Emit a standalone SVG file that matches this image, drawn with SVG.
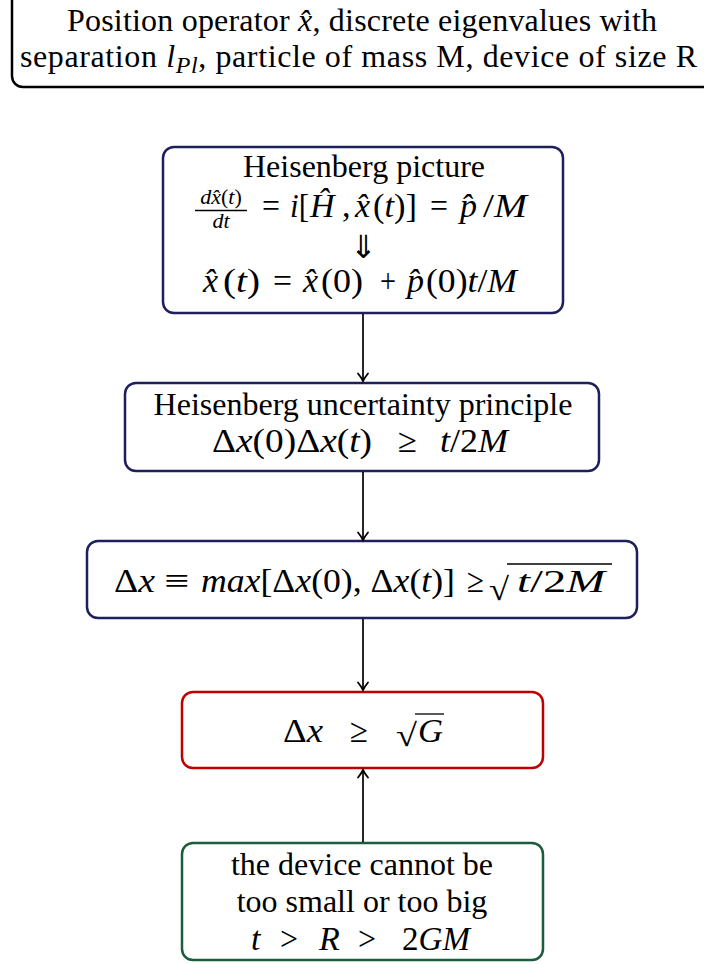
<svg xmlns="http://www.w3.org/2000/svg" width="704" height="964" viewBox="0 0 704 964" font-family="'Liberation Serif', Tinos, 'Times New Roman', serif">
<style>
text{font-family:'Liberation Serif', Tinos, 'Times New Roman', serif;font-size:32px;fill:#000}
.m{font-size:34px}
.it{font-style:italic}
.sm{font-size:22px}
.box{fill:#fff;stroke-width:2.5}
.navy{stroke:#1f1f5c}
.red{stroke:#c00000}
.green{stroke:#1b5c3e}
.blk{stroke:#000}
.conn line{stroke:#000;stroke-width:1.7}
.rule{stroke:#000;stroke-width:1.3}
</style>
<defs>
<marker id="arr" markerUnits="userSpaceOnUse" markerWidth="16" markerHeight="16" refX="0" refY="0" viewBox="-9 -8 11 16" orient="auto">
<path d="M-7.5,-5 Q-3,-1.4 0,0 Q-3,1.4 -7.5,5" fill="none" stroke="#000" stroke-width="1.8" stroke-linecap="round"/>
</marker>
</defs>

<g id="premise">
<rect class="box blk" x="12" y="-20" width="702" height="107" rx="11"/>
<text x="67" y="31" font-size="34.5" textLength="590" lengthAdjust="spacing">Position operator <tspan class="it">x̂</tspan>, discrete eigenvalues with</text>
<text x="20" y="67" font-size="35" textLength="677" lengthAdjust="spacing">separation <tspan class="it">l</tspan><tspan class="it" font-size="24" dy="6">Pl</tspan><tspan dy="-6">, particle of mass M, device of size R</tspan></text>
</g>

<g id="heisenberg-picture">
<rect class="box navy" x="163" y="147" width="400" height="166" rx="11"/>
<text x="364" y="177" text-anchor="middle">Heisenberg picture</text>
<text class="sm it" x="221" y="204" text-anchor="middle">dx̂<tspan font-style="normal">(</tspan>t<tspan font-style="normal">)</tspan></text>
<line class="rule" x1="195" y1="210.5" x2="247" y2="210.5"/>
<text class="sm it" x="221" y="228" text-anchor="middle">dt</text>
<text class="m" x="262" y="217" textLength="18" lengthAdjust="spacingAndGlyphs">=</text>
<text class="m" x="290" y="217" textLength="19" lengthAdjust="spacingAndGlyphs"><tspan class="it">i</tspan>[</text>
<text class="m it" x="310" y="217">Ĥ</text>
<text class="m" x="342" y="217">,</text>
<text class="m it" x="355" y="217">x̂</text>
<text class="m" x="373" y="217" textLength="44" lengthAdjust="spacingAndGlyphs">(<tspan class="it">t</tspan>)]</text>
<text class="m" x="430" y="217" textLength="18" lengthAdjust="spacingAndGlyphs">=</text>
<text class="m it" x="460" y="217">p̂</text>
<text class="m" x="483" y="217" textLength="44" lengthAdjust="spacingAndGlyphs">/<tspan class="it">M</tspan></text>
<text x="363" y="258" text-anchor="middle" font-size="28" font-family="DejaVu Serif, serif">⇓</text>
<text class="m it" x="203" y="292">x̂</text>
<text class="m" x="223" y="292" textLength="37" lengthAdjust="spacingAndGlyphs">(<tspan class="it">t</tspan>)</text>
<text class="m" x="273" y="292" textLength="19" lengthAdjust="spacingAndGlyphs">=</text>
<text class="m it" x="303" y="292">x̂</text>
<text class="m" x="321" y="292" textLength="42" lengthAdjust="spacingAndGlyphs">(0)</text>
<text class="m" x="380" y="292" textLength="16" lengthAdjust="spacingAndGlyphs">+</text>
<text class="m it" x="407" y="292">p̂</text>
<text class="m" x="426" y="292" textLength="91" lengthAdjust="spacingAndGlyphs">(0)<tspan class="it">t</tspan>/<tspan class="it">M</tspan></text>
</g>

<g id="uncertainty">
<rect class="box navy" x="125" y="383" width="474" height="88" rx="11"/>
<text x="363" y="415" text-anchor="middle">Heisenberg uncertainty principle</text>
<text class="m" x="212" y="452" textLength="160" lengthAdjust="spacingAndGlyphs">Δ<tspan class="it">x</tspan>(0)Δ<tspan class="it">x</tspan>(<tspan class="it">t</tspan>)</text>
<text class="m" x="398" y="452" textLength="19" lengthAdjust="spacingAndGlyphs">≥</text>
<text class="m" x="440" y="452" textLength="68" lengthAdjust="spacingAndGlyphs"><tspan class="it">t</tspan>/2<tspan class="it">M</tspan></text>
</g>

<g id="max-bound">
<rect class="box navy" x="87" y="541" width="550" height="77" rx="11"/>
<text class="m" x="114" y="592" textLength="41" lengthAdjust="spacingAndGlyphs">Δ<tspan class="it">x</tspan></text>
<text class="m" x="164" y="592" textLength="25" lengthAdjust="spacingAndGlyphs">≡</text>
<text class="m" x="201" y="592" textLength="254" lengthAdjust="spacingAndGlyphs"><tspan class="it">max</tspan>[Δ<tspan class="it">x</tspan>(0), Δ<tspan class="it">x</tspan>(<tspan class="it">t</tspan>)]</text>
<text class="m" x="467" y="592" textLength="17" lengthAdjust="spacingAndGlyphs">≥</text>
<text x="489" y="600" font-size="38" textLength="20" lengthAdjust="spacingAndGlyphs">√</text>
<line class="rule" x1="507" y1="564" x2="612" y2="564"/>
<text x="517" y="592" font-size="38" textLength="88" lengthAdjust="spacingAndGlyphs"><tspan class="it">t</tspan>/2<tspan class="it">M</tspan></text>
</g>

<g id="result">
<rect class="box red" x="182" y="692" width="361" height="76" rx="11"/>
<text class="m" x="283" y="742" textLength="40" lengthAdjust="spacingAndGlyphs">Δ<tspan class="it">x</tspan></text>
<text class="m" x="350" y="742" textLength="18" lengthAdjust="spacingAndGlyphs">≥</text>
<text x="396" y="746" font-size="35" textLength="21" lengthAdjust="spacingAndGlyphs">√</text>
<line class="rule" x1="415" y1="714" x2="444" y2="714"/>
<text class="m it" x="418" y="742" textLength="25" lengthAdjust="spacingAndGlyphs">G</text>
</g>

<g id="device">
<rect class="box green" x="182" y="843" width="361" height="117" rx="11"/>
<text x="362" y="875" text-anchor="middle">the device cannot be</text>
<text x="362" y="912" text-anchor="middle">too small or too big</text>
<text class="m it" x="251" y="950">t</text>
<text class="m" x="280" y="950" textLength="18" lengthAdjust="spacingAndGlyphs">&gt;</text>
<text class="m it" x="319" y="950">R</text>
<text class="m" x="358" y="950" textLength="18" lengthAdjust="spacingAndGlyphs">&gt;</text>
<text class="m" x="402" y="950" textLength="68" lengthAdjust="spacingAndGlyphs">2<tspan class="it">GM</tspan></text>
</g>

<g class="conn" id="connectors">
<line x1="363" y1="314" x2="363" y2="381" marker-end="url(#arr)"/>
<line x1="363" y1="472" x2="363" y2="540" marker-end="url(#arr)"/>
<line x1="363" y1="619" x2="363" y2="690" marker-end="url(#arr)"/>
<line x1="363" y1="842" x2="363" y2="770" marker-end="url(#arr)"/>
</g>
</svg>
